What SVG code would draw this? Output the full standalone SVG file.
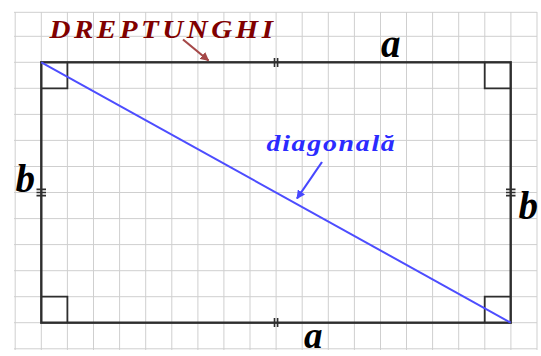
<svg xmlns="http://www.w3.org/2000/svg" width="541" height="356" viewBox="0 0 541 356">
<style>
.grid{stroke:#cfcfcf;stroke-width:1;fill:none}
.edge{stroke:#2e2e2e;stroke-width:2.4;fill:none;stroke-linecap:square}
.ra{stroke:#2e2e2e;stroke-width:1.8;fill:none}
.tick{stroke:#2e2e2e;stroke-width:1.6;fill:none}
.var{font-family:"Liberation Serif","DejaVu Serif",serif;font-style:italic;font-weight:bold;font-size:39px;fill:#000}
.low{font-size:37px}
.title{font-family:"Liberation Serif","DejaVu Serif",serif;font-style:italic;font-weight:bold;font-size:25px;letter-spacing:3px;fill:#800000}
.diag{font-family:"Liberation Serif","DejaVu Serif",serif;font-style:italic;font-weight:bold;font-size:24px;letter-spacing:1.5px;fill:#2b2bff}
</style>
<defs>
<marker id="ahRed" viewBox="0 0 10 10" refX="9" refY="5" markerWidth="4" markerHeight="4" orient="auto" markerUnits="strokeWidth">
<path d="M0,0 L10,5 L0,10 z" fill="#a54848"/>
</marker>
<marker id="ahBlue" viewBox="0 0 10 10" refX="9" refY="5" markerWidth="4" markerHeight="4" orient="auto" markerUnits="strokeWidth">
<path d="M0,0 L10,5 L0,10 z" fill="#4747ff"/>
</marker>
</defs>
<rect width="541" height="356" fill="#fff"/>
<g id="grid" class="grid">
<path d="M15.2,12V350M41.3,12V350M67.4,12V350M93.5,12V350M119.6,12V350M145.7,12V350M171.8,12V350M197.9,12V350M223.9,12V350M250,12V350M276.1,12V350M302.2,12V350M328.3,12V350M354.4,12V350M380.5,12V350M406.5,12V350M432.6,12V350M458.7,12V350M484.8,12V350M510.9,12V350M537,12V350"/>
<path d="M14,12.3H537M14,36.3H537M14,62.3H537M14,88.3H537M14,114.4H537M14,140.4H537M14,166.5H537M14,192.5H537M14,218.6H537M14,244.6H537M14,270.7H537M14,296.7H537M14,322.7H537M14,348.8H537"/>
</g>
<g id="rectangle">
<rect class="edge" x="41.3" y="62.3" width="469.4" height="260.4"/>
<path class="ra" d="M41.3,88.3H67.4V62.3"/>
<path class="ra" d="M484.7,62.3V88.3H510.7"/>
<path class="ra" d="M41.3,296.7H67.4V322.7"/>
<path class="ra" d="M484.7,322.7V296.7H510.7"/>
</g>
<g id="ticks" class="tick">
<path d="M274.5,58V67M277.6,58V67"/>
<path d="M274.5,318V327M277.6,318V327"/>
<path d="M36.5,189.4H46M36.5,192.5H46M36.5,195.6H46"/>
<path d="M506,189.4H515.5M506,192.5H515.5M506,195.6H515.5"/>
</g>
<g id="diagonal">
<line x1="41.3" y1="62.3" x2="510.7" y2="322.7" stroke="#4d4dff" stroke-width="2"/>
</g>
<g id="connectors">
<line x1="183" y1="39.5" x2="208.5" y2="60.5" stroke="#a54848" stroke-width="2.2" marker-end="url(#ahRed)"/>
<line x1="322" y1="162" x2="297" y2="198.5" stroke="#4747ff" stroke-width="2.2" marker-end="url(#ahBlue)"/>
</g>
<g id="labels">
<text class="title" x="49.5" y="37.7" textLength="227" lengthAdjust="spacingAndGlyphs">DREPTUNGHI</text>
<text class="diag" x="266.5" y="150.7" textLength="130" lengthAdjust="spacingAndGlyphs">diagonală</text>
<text class="var" x="381" y="56.7">a</text>
<text class="var low" x="304" y="347.5">a</text>
<text class="var" x="15.5" y="191.7">b</text>
<text class="var" x="518.5" y="219.3">b</text>
</g>
</svg>
